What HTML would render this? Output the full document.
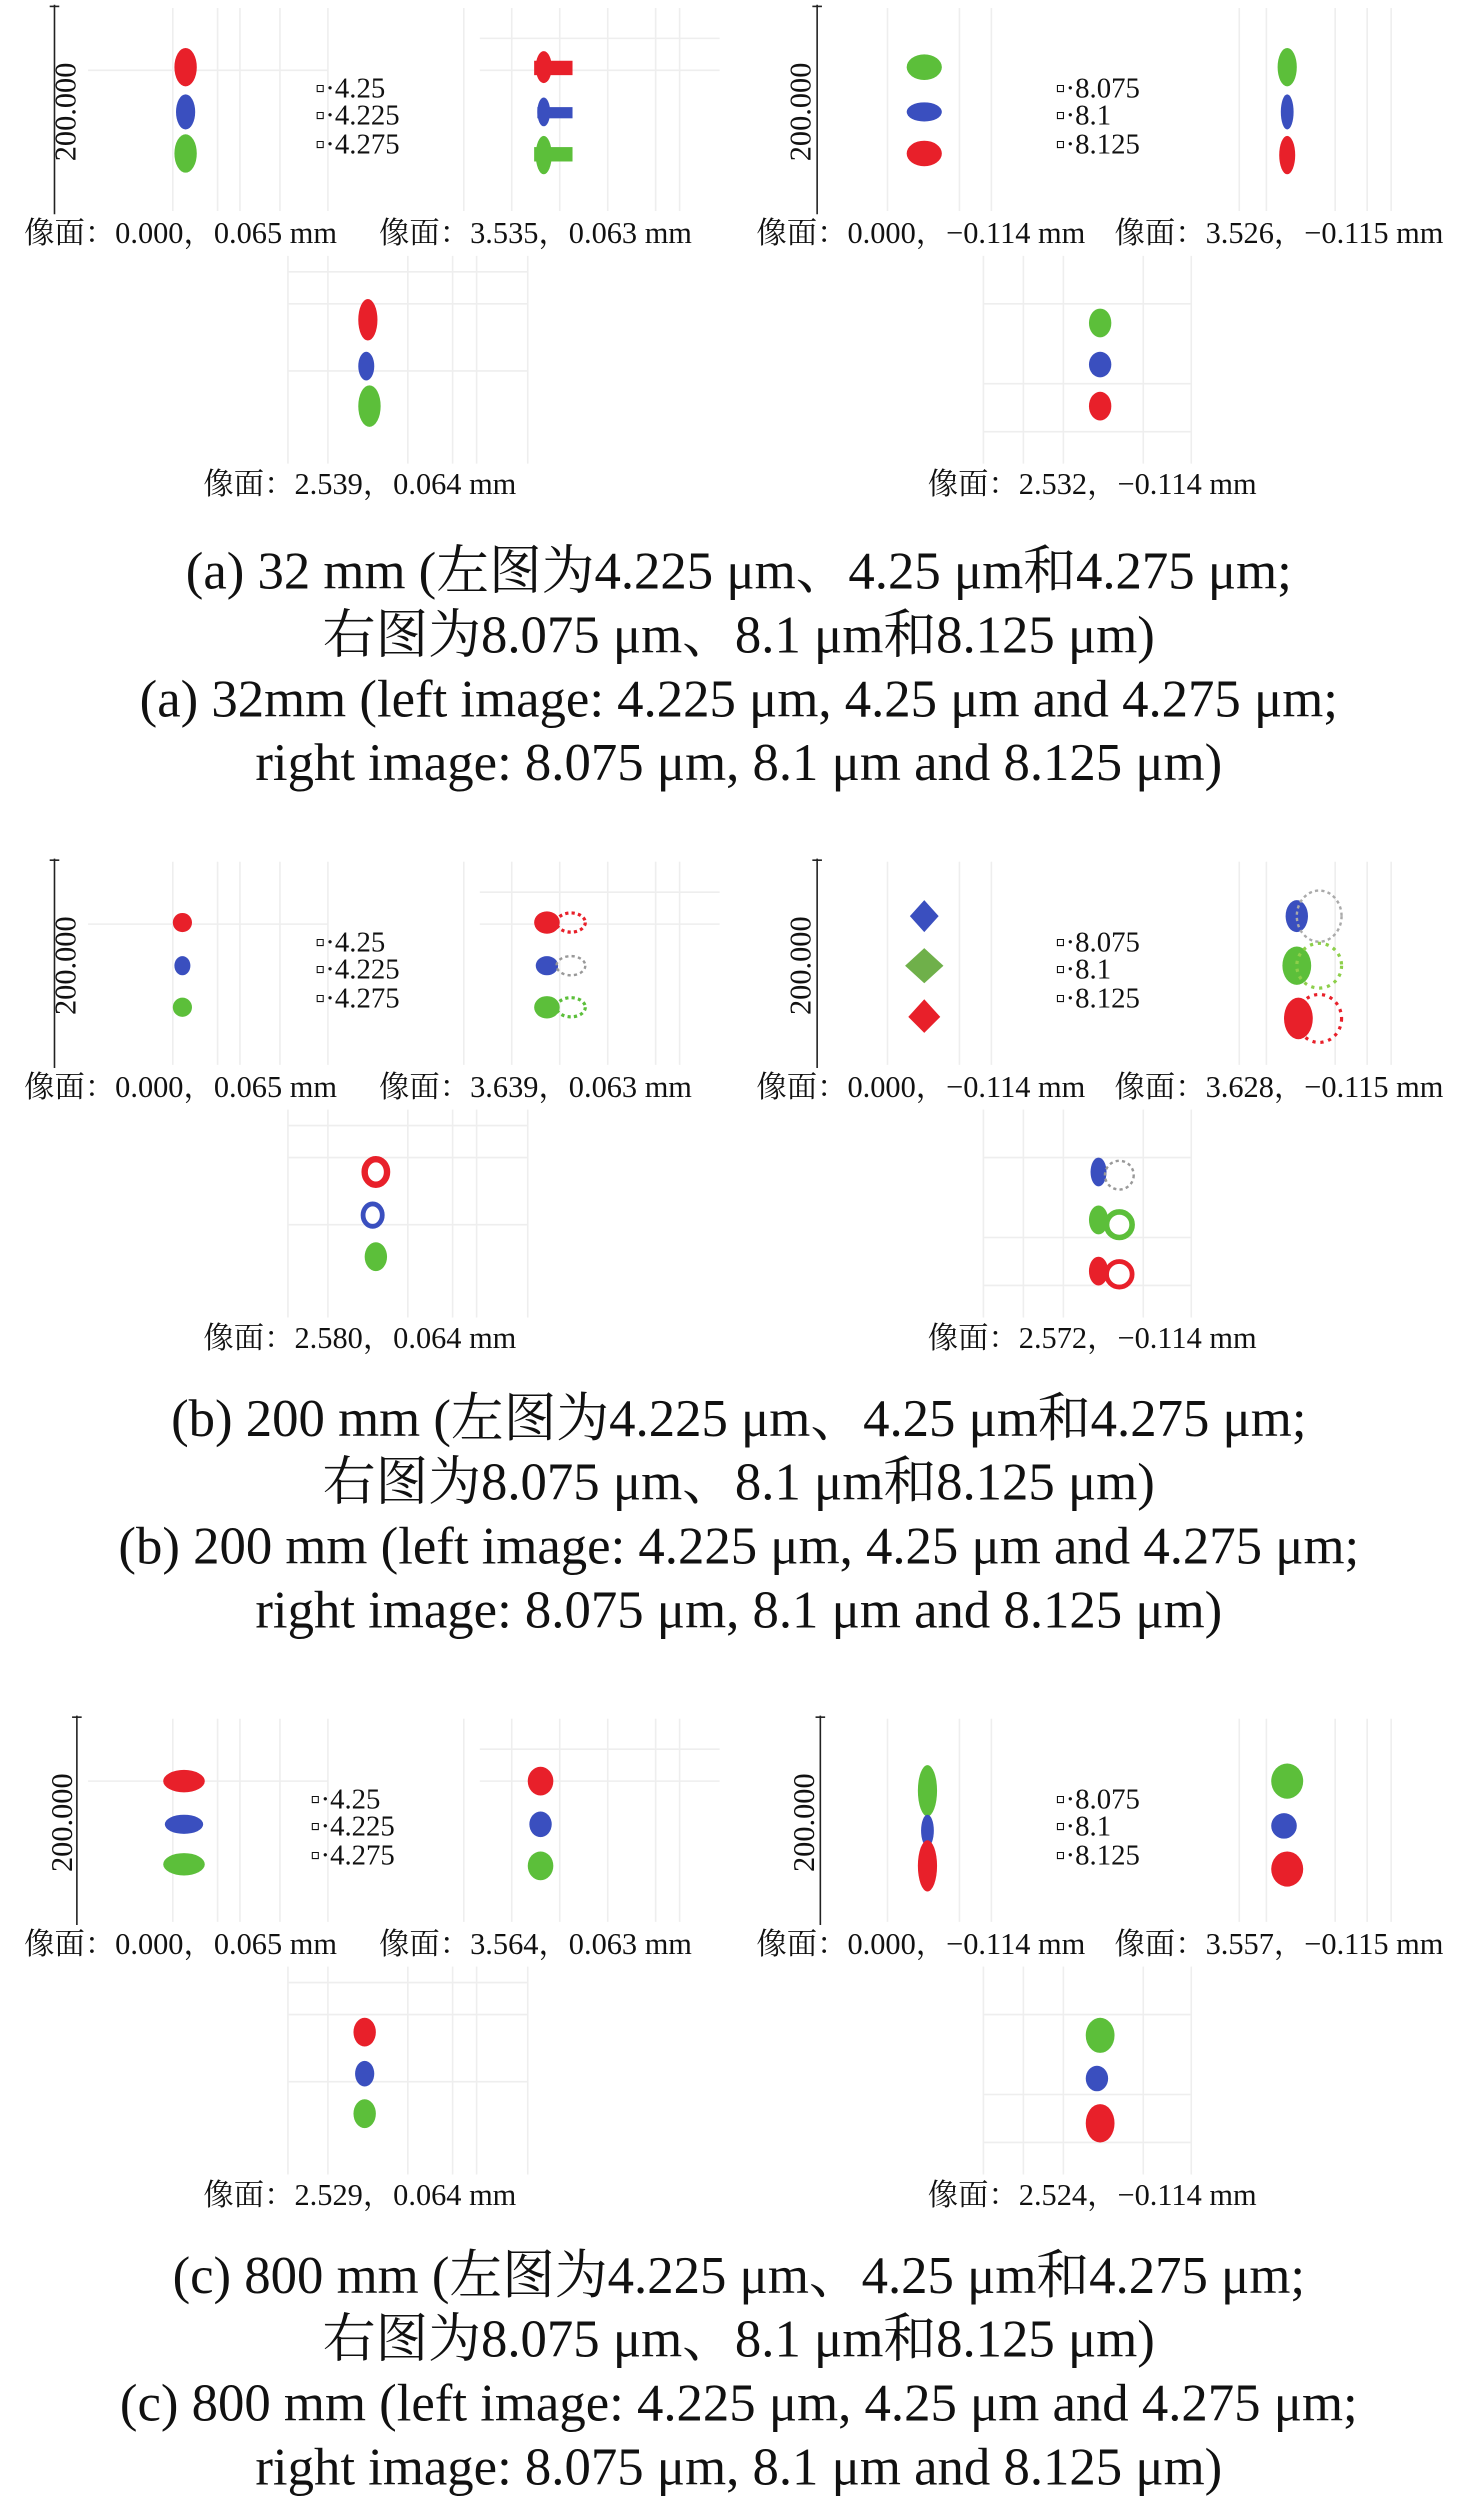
<!DOCTYPE html>
<html><head><meta charset="utf-8"><style>
html,body{margin:0;padding:0;background:#fff;}
svg{display:block;}
.lb{font-family:"Liberation Serif","Noto Serif CJK SC",serif;font-size:19px;fill:#111;}
.lg{font-family:"Liberation Serif",serif;font-size:18px;fill:#111;}
.cap{font-family:"Liberation Serif","Noto Serif CJK SC",serif;font-size:33px;fill:#111;}
.g line{stroke:#eeeeee;stroke-width:1;}
</style></head><body>
<svg width="1476" height="2507" viewBox="0 0 923 1568" xmlns="http://www.w3.org/2000/svg">
<defs>
<g id="gridL" class="g">
<line x1="108" y1="5" x2="108" y2="132"/><line x1="136" y1="5" x2="136" y2="132"/><line x1="150" y1="5" x2="150" y2="132"/><line x1="175" y1="5" x2="175" y2="132"/><line x1="205" y1="5" x2="205" y2="132"/>
<line x1="55" y1="44" x2="205" y2="44"/>
<line x1="290" y1="5" x2="290" y2="132"/><line x1="320" y1="5" x2="320" y2="132"/><line x1="350" y1="5" x2="350" y2="132"/><line x1="380" y1="5" x2="380" y2="132"/><line x1="410" y1="5" x2="410" y2="132"/><line x1="425" y1="5" x2="425" y2="132"/>
<line x1="300" y1="24" x2="450" y2="24"/><line x1="300" y1="44" x2="450" y2="44"/>
<line x1="180" y1="160" x2="180" y2="290"/><line x1="205" y1="160" x2="205" y2="290"/><line x1="255" y1="160" x2="255" y2="290"/><line x1="283" y1="160" x2="283" y2="290"/><line x1="298" y1="160" x2="298" y2="290"/><line x1="330" y1="160" x2="330" y2="290"/>
<line x1="180" y1="170" x2="330" y2="170"/><line x1="180" y1="190" x2="330" y2="190"/><line x1="180" y1="232" x2="330" y2="232"/>
</g>
<g id="gridR" class="g">
<line x1="555" y1="5" x2="555" y2="132"/><line x1="600" y1="5" x2="600" y2="132"/><line x1="620" y1="5" x2="620" y2="132"/>
<line x1="775" y1="5" x2="775" y2="132"/><line x1="792" y1="5" x2="792" y2="132"/><line x1="835" y1="5" x2="835" y2="132"/><line x1="855" y1="5" x2="855" y2="132"/><line x1="870" y1="5" x2="870" y2="132"/>
<line x1="615" y1="160" x2="615" y2="290"/><line x1="640" y1="160" x2="640" y2="290"/><line x1="665" y1="160" x2="665" y2="290"/><line x1="715" y1="160" x2="715" y2="290"/><line x1="745" y1="160" x2="745" y2="290"/>
<line x1="615" y1="190" x2="745" y2="190"/><line x1="615" y1="240" x2="745" y2="240"/><line x1="615" y1="270" x2="745" y2="270"/>
</g>
</defs>

<!-- Panel a -->
<g>
<use href="#gridL"/><use href="#gridR"/>
<line x1="34" y1="3" x2="34" y2="134" stroke="#222"/><line x1="31" y1="4" x2="37" y2="4" stroke="#222"/>
<text class="lb" transform="translate(47,70) rotate(-90)" text-anchor="middle">200.000</text>
<ellipse cx="116" cy="42" rx="7" ry="12" fill="#e8202a"/><ellipse cx="116" cy="70" rx="6" ry="11" fill="#3a4fbf"/><ellipse cx="116" cy="96" rx="7" ry="12" fill="#5cbf3a"/>
<text class="lg" x="197" y="61">▫·4.25</text><text class="lg" x="197" y="78">▫·4.225</text><text class="lg" x="197" y="96">▫·4.275</text>
<rect x="334" y="38" width="24" height="9" fill="#e8202a"/><ellipse cx="340" cy="42" rx="5" ry="10" fill="#e8202a"/>
<rect x="336" y="67" width="22" height="7" fill="#3a4fbf"/><ellipse cx="340" cy="70" rx="4" ry="9" fill="#3a4fbf"/>
<rect x="334" y="92" width="24" height="9" fill="#5cbf3a"/><ellipse cx="340" cy="97" rx="5" ry="12" fill="#5cbf3a"/>
<text class="lb" x="15" y="152">像面：0.000，0.065 mm</text><text class="lb" x="237" y="152">像面：3.535，0.063 mm</text>
<ellipse cx="230" cy="200" rx="6" ry="13" fill="#e8202a"/><ellipse cx="229" cy="229" rx="5" ry="9" fill="#3a4fbf"/><ellipse cx="231" cy="254" rx="7" ry="13" fill="#5cbf3a"/>
<text class="lb" x="225" y="309" text-anchor="middle">像面：2.539，0.064 mm</text>
<line x1="511" y1="3" x2="511" y2="134" stroke="#222"/><line x1="508" y1="4" x2="514" y2="4" stroke="#222"/>
<text class="lb" transform="translate(507,70) rotate(-90)" text-anchor="middle">200.000</text>
<ellipse cx="578" cy="42" rx="11" ry="8" fill="#5cbf3a"/><ellipse cx="578" cy="70" rx="11" ry="6" fill="#3a4fbf"/><ellipse cx="578" cy="96" rx="11" ry="8" fill="#e8202a"/>
<text class="lg" x="660" y="61">▫·8.075</text><text class="lg" x="660" y="78">▫·8.1</text><text class="lg" x="660" y="96">▫·8.125</text>
<ellipse cx="805" cy="42" rx="6" ry="12" fill="#5cbf3a"/><ellipse cx="805" cy="70" rx="4" ry="11" fill="#3a4fbf"/><ellipse cx="805" cy="97" rx="5" ry="12" fill="#e8202a"/>
<text class="lb" x="473" y="152">像面：0.000，−0.114 mm</text><text class="lb" x="697" y="152">像面：3.526，−0.115 mm</text>
<ellipse cx="688" cy="202" rx="7" ry="9" fill="#5cbf3a"/><ellipse cx="688" cy="228" rx="7" ry="8" fill="#3a4fbf"/><ellipse cx="688" cy="254" rx="7" ry="9" fill="#e8202a"/>
<text class="lb" x="683" y="309" text-anchor="middle">像面：2.532，−0.114 mm</text>
</g>
<text class="cap" x="462" y="368" text-anchor="middle">(a) 32 mm (左图为4.225 μm、4.25 μm和4.275 μm;</text>
<text class="cap" x="462" y="408" text-anchor="middle">右图为8.075 μm、8.1 μm和8.125 μm)</text>
<text class="cap" x="462" y="448" text-anchor="middle">(a) 32mm (left image: 4.225 μm, 4.25 μm and 4.275 μm;</text>
<text class="cap" x="462" y="488" text-anchor="middle">right image: 8.075 μm, 8.1 μm and 8.125 μm)</text>

<!-- Panel b -->
<g transform="translate(0,534)">
<use href="#gridL"/><use href="#gridR"/>
<line x1="34" y1="3" x2="34" y2="134" stroke="#222"/><line x1="31" y1="4" x2="37" y2="4" stroke="#222"/>
<text class="lb" transform="translate(47,70) rotate(-90)" text-anchor="middle">200.000</text>
<ellipse cx="114" cy="43" rx="6" ry="6" fill="#e8202a"/><ellipse cx="114" cy="70" rx="5" ry="6" fill="#3a4fbf"/><ellipse cx="114" cy="96" rx="6" ry="6" fill="#5cbf3a"/>
<text class="lg" x="197" y="61">▫·4.25</text><text class="lg" x="197" y="78">▫·4.225</text><text class="lg" x="197" y="96">▫·4.275</text>
<ellipse cx="342" cy="43" rx="8" ry="7" fill="#e8202a"/><ellipse cx="357" cy="43" rx="9" ry="6" fill="none" stroke="#e8202a" stroke-width="2" stroke-dasharray="2 2"/>
<ellipse cx="342" cy="70" rx="7" ry="6" fill="#3a4fbf"/><ellipse cx="357" cy="70" rx="9" ry="6" fill="none" stroke="#999" stroke-width="1.5" stroke-dasharray="2 2"/>
<ellipse cx="342" cy="96" rx="8" ry="7" fill="#5cbf3a"/><ellipse cx="357" cy="96" rx="9" ry="6" fill="none" stroke="#5cbf3a" stroke-width="2" stroke-dasharray="2 2"/>
<text class="lb" x="15" y="152">像面：0.000，0.065 mm</text><text class="lb" x="237" y="152">像面：3.639，0.063 mm</text>
<ellipse cx="235" cy="199" rx="7" ry="8" fill="none" stroke="#e8202a" stroke-width="4"/><ellipse cx="233" cy="226" rx="6" ry="7" fill="none" stroke="#3a4fbf" stroke-width="3"/><ellipse cx="235" cy="252" rx="7" ry="9" fill="#5cbf3a"/>
<text class="lb" x="225" y="309" text-anchor="middle">像面：2.580，0.064 mm</text>
<line x1="511" y1="3" x2="511" y2="134" stroke="#222"/><line x1="508" y1="4" x2="514" y2="4" stroke="#222"/>
<text class="lb" transform="translate(507,70) rotate(-90)" text-anchor="middle">200.000</text>
<path d="M578 29 L587 39 L578 49 L569 39Z" fill="#3a4fbf"/><path d="M578 59 L590 70 L578 81 L566 70Z" fill="#6fb04a"/><path d="M578 91 L588 102 L578 112 L568 102Z" fill="#e8202a"/>
<text class="lg" x="660" y="61">▫·8.075</text><text class="lg" x="660" y="78">▫·8.1</text><text class="lg" x="660" y="96">▫·8.125</text>
<ellipse cx="811" cy="39" rx="7" ry="10" fill="#3a4fbf"/><ellipse cx="825" cy="39" rx="14" ry="16" fill="none" stroke="#aaa" stroke-width="1.5" stroke-dasharray="2 2"/>
<ellipse cx="811" cy="70" rx="9" ry="12" fill="#5cbf3a"/><ellipse cx="825" cy="70" rx="14" ry="14" fill="none" stroke="#8dcf4a" stroke-width="2" stroke-dasharray="2 3"/>
<ellipse cx="812" cy="103" rx="9" ry="13" fill="#e8202a"/><ellipse cx="825" cy="103" rx="14" ry="15" fill="none" stroke="#e8202a" stroke-width="2" stroke-dasharray="2 3"/>
<text class="lb" x="473" y="152">像面：0.000，−0.114 mm</text><text class="lb" x="697" y="152">像面：3.628，−0.115 mm</text>
<ellipse cx="687" cy="199" rx="5" ry="9" fill="#3a4fbf"/><circle cx="700" cy="201" r="9" fill="none" stroke="#999" stroke-width="1.5" stroke-dasharray="2 2"/>
<ellipse cx="687" cy="229" rx="6" ry="9" fill="#5cbf3a"/><circle cx="700" cy="232" r="8" fill="none" stroke="#5cbf3a" stroke-width="3.5"/>
<ellipse cx="687" cy="261" rx="6" ry="9" fill="#e8202a"/><circle cx="700" cy="263" r="8" fill="none" stroke="#e8202a" stroke-width="3"/>
<text class="lb" x="683" y="309" text-anchor="middle">像面：2.572，−0.114 mm</text>
</g>
<text class="cap" x="462" y="898" text-anchor="middle">(b) 200 mm (左图为4.225 μm、4.25 μm和4.275 μm;</text>
<text class="cap" x="462" y="938" text-anchor="middle">右图为8.075 μm、8.1 μm和8.125 μm)</text>
<text class="cap" x="462" y="978" text-anchor="middle">(b) 200 mm (left image: 4.225 μm, 4.25 μm and 4.275 μm;</text>
<text class="cap" x="462" y="1018" text-anchor="middle">right image: 8.075 μm, 8.1 μm and 8.125 μm)</text>

<!-- Panel c -->
<g transform="translate(0,1070)">
<use href="#gridL"/><use href="#gridR"/>
<line x1="48" y1="3" x2="48" y2="134" stroke="#222"/><line x1="45" y1="4" x2="51" y2="4" stroke="#222"/>
<text class="lb" transform="translate(45,70) rotate(-90)" text-anchor="middle">200.000</text>
<ellipse cx="115" cy="44" rx="13" ry="7" fill="#e8202a"/><ellipse cx="115" cy="71" rx="12" ry="6" fill="#3a4fbf"/><ellipse cx="115" cy="96" rx="13" ry="7" fill="#5cbf3a"/>
<text class="lg" x="194" y="61">▫·4.25</text><text class="lg" x="194" y="78">▫·4.225</text><text class="lg" x="194" y="96">▫·4.275</text>
<ellipse cx="338" cy="44" rx="8" ry="9" fill="#e8202a"/><ellipse cx="338" cy="71" rx="7" ry="8" fill="#3a4fbf"/><ellipse cx="338" cy="97" rx="8" ry="9" fill="#5cbf3a"/>
<text class="lb" x="15" y="152">像面：0.000，0.065 mm</text><text class="lb" x="237" y="152">像面：3.564，0.063 mm</text>
<ellipse cx="228" cy="201" rx="7" ry="9" fill="#e8202a"/><ellipse cx="228" cy="227" rx="6" ry="8" fill="#3a4fbf"/><ellipse cx="228" cy="252" rx="7" ry="9" fill="#5cbf3a"/>
<text class="lb" x="225" y="309" text-anchor="middle">像面：2.529，0.064 mm</text>
<line x1="513" y1="3" x2="513" y2="134" stroke="#222"/><line x1="510" y1="4" x2="516" y2="4" stroke="#222"/>
<text class="lb" transform="translate(509,70) rotate(-90)" text-anchor="middle">200.000</text>
<ellipse cx="580" cy="50" rx="6" ry="16" fill="#5cbf3a"/><ellipse cx="580" cy="75" rx="4" ry="10" fill="#3a4fbf"/><ellipse cx="580" cy="97" rx="6" ry="16" fill="#e8202a"/>
<text class="lg" x="660" y="61">▫·8.075</text><text class="lg" x="660" y="78">▫·8.1</text><text class="lg" x="660" y="96">▫·8.125</text>
<ellipse cx="805" cy="44" rx="10" ry="11" fill="#5cbf3a"/><ellipse cx="803" cy="72" rx="8" ry="8" fill="#3a4fbf"/><ellipse cx="805" cy="99" rx="10" ry="11" fill="#e8202a"/>
<text class="lb" x="473" y="152">像面：0.000，−0.114 mm</text><text class="lb" x="697" y="152">像面：3.557，−0.115 mm</text>
<ellipse cx="688" cy="203" rx="9" ry="11" fill="#5cbf3a"/><ellipse cx="686" cy="230" rx="7" ry="8" fill="#3a4fbf"/><ellipse cx="688" cy="258" rx="9" ry="12" fill="#e8202a"/>
<text class="lb" x="683" y="309" text-anchor="middle">像面：2.524，−0.114 mm</text>
</g>
<text class="cap" x="462" y="1434" text-anchor="middle">(c) 800 mm (左图为4.225 μm、4.25 μm和4.275 μm;</text>
<text class="cap" x="462" y="1474" text-anchor="middle">右图为8.075 μm、8.1 μm和8.125 μm)</text>
<text class="cap" x="462" y="1514" text-anchor="middle">(c) 800 mm (left image: 4.225 μm, 4.25 μm and 4.275 μm;</text>
<text class="cap" x="462" y="1554" text-anchor="middle">right image: 8.075 μm, 8.1 μm and 8.125 μm)</text>
</svg>
</body></html>
